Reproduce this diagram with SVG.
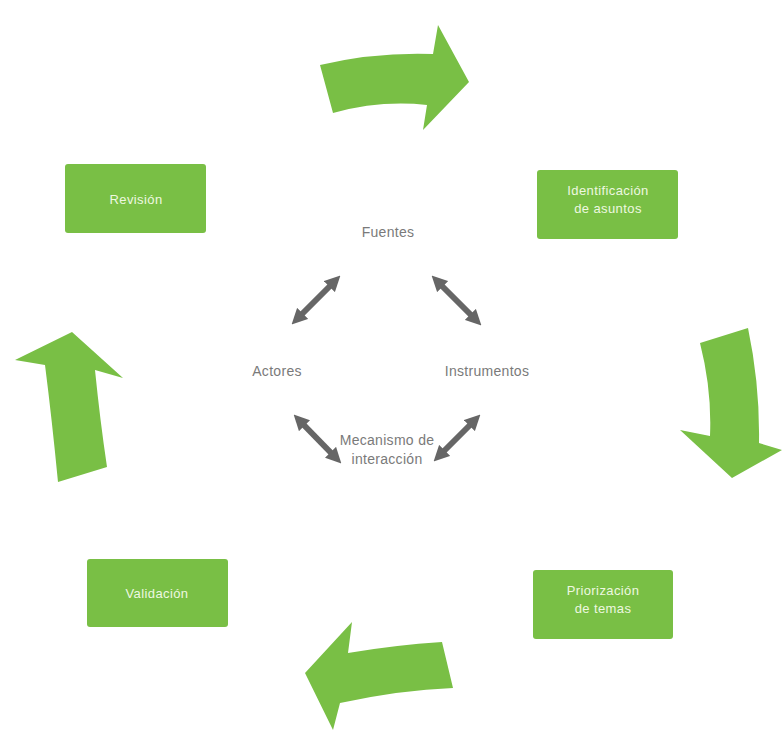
<svg xmlns="http://www.w3.org/2000/svg" width="782" height="731" viewBox="0 0 782 731">
<style>
.box{fill:#79bf45}
.bt{font-family:"Liberation Sans",Arial,sans-serif;font-size:13px;fill:#eef8e0;text-anchor:middle;letter-spacing:0.4px}
.ct{font-family:"Liberation Sans",Arial,sans-serif;font-size:14px;fill:#7a7a7a;text-anchor:middle;letter-spacing:0.3px}
.big{fill:#79bf45}
.dbl{stroke:#666;stroke-width:6;fill:none;marker-start:url(#ah);marker-end:url(#ah)}
</style>
<defs>
<marker id="ah" viewBox="0 0 10 10" refX="6" refY="5" markerWidth="2.6" markerHeight="2.6" orient="auto-start-reverse">
<path d="M0,0 L10,5 L0,10 Z" fill="#666"/>
</marker>
</defs>
<g id="cycle-arrows">
<path class="big" d="M320,65 Q375,52 433,54 L438,25 L469,82 L423,130 L427,105 Q380,100 333,113 Z"/>
<path class="big" d="M700,343 L748,328 Q760,385 759,443 L782,450 L732,478 L680,430 L710,436 Q712,390 700,343 Z"/>
<path class="big" d="M305,673 L352,622 L348,653 Q395,645 442,642 L453,688 Q400,690 340,703 L333,730 Z"/>
<path class="big" d="M72,332 L123,378 L95,370 Q100,420 107,467 L58,482 Q52,420 45,365 L15,360 Z"/>
</g>
<g id="revision"><rect class="box" x="65" y="164" width="141" height="69" rx="3"/><text class="bt" x="136" y="204">Revisión</text></g>
<g id="identificacion"><rect class="box" x="537" y="170" width="141" height="69" rx="3"/><text class="bt" x="608" y="195">Identificación</text><text class="bt" x="608" y="213">de asuntos</text></g>
<g id="validacion"><rect class="box" x="87" y="559" width="141" height="68" rx="3"/><text class="bt" x="157" y="598">Validación</text></g>
<g id="priorizacion"><rect class="box" x="533" y="570" width="140" height="69" rx="3"/><text class="bt" x="603" y="595">Priorización</text><text class="bt" x="603" y="613">de temas</text></g>
<g id="fuentes"><text class="ct" x="388" y="237">Fuentes</text></g>
<g id="actores"><text class="ct" x="277" y="376">Actores</text></g>
<g id="instrumentos"><text class="ct" x="487" y="376">Instrumentos</text></g>
<g id="mecanismo"><text class="ct" x="387" y="445">Mecanismo de</text><text class="ct" x="387" y="464">interacción</text></g>
<g id="connectors">
<line class="dbl" x1="296" y1="320" x2="336" y2="280"/>
<line class="dbl" x1="436" y1="280" x2="477" y2="321"/>
<line class="dbl" x1="298" y1="419" x2="337" y2="459"/>
<line class="dbl" x1="476" y1="419" x2="438" y2="457"/>
</g>
</svg>
